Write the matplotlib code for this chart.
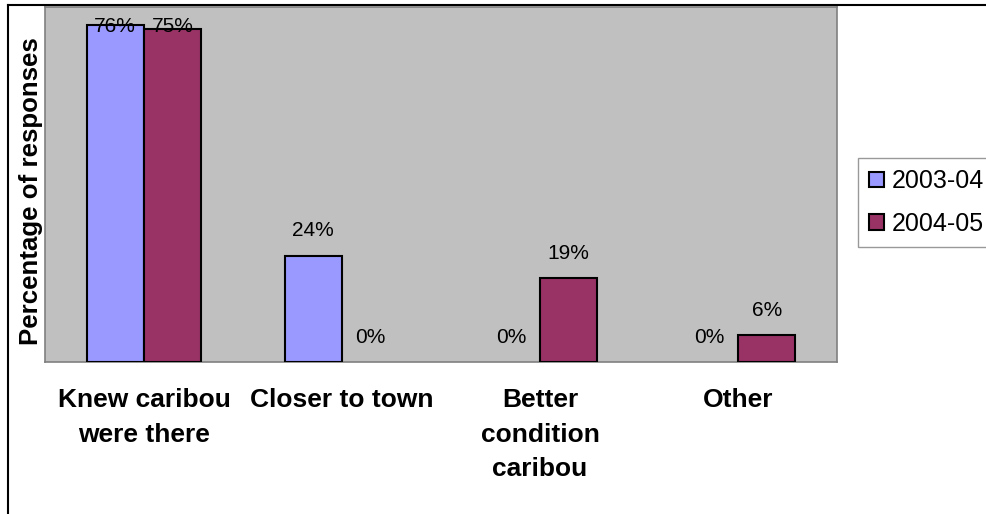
import matplotlib
matplotlib.use("Agg")
import matplotlib.pyplot as plt
from matplotlib.patches import Patch
from matplotlib.lines import Line2D
import numpy as np

plt.rcParams['font.family'] = ['Liberation Sans', 'DejaVu Sans']

categories = ["Knew caribou\nwere there", "Closer to town", "Better\ncondition\ncaribou", "Other"]
series_names = ["2003-04", "2004-05"]
values_2003 = [76, 24, 0, 0]
values_2004 = [75, 0, 19, 6]
colors = ["#9999FF", "#993366"]

W, H = 986, 514
fig = plt.figure(figsize=(W / 100, H / 100), dpi=100)
ax = fig.add_axes([45 / W, 1 - 362 / H, 792 / W, 355 / H])
ax.set_facecolor("#C0C0C0")

x = np.arange(len(categories))
bw = 0.29
px_to_pt = 72 / 100

for i, (vals, col, name) in enumerate(zip([values_2003, values_2004], colors, series_names)):
    offs = (i - 0.5) * bw
    # zero-height bars get no outline
    lws = [1.5 if v > 0 else 0 for v in vals]
    ax.bar(x + offs, vals, width=bw, color=col, edgecolor="black", linewidth=lws, label=name, zorder=3)
    for xi, v in zip(x + offs, vals):
        if v > 70:
            # labels near the top are pulled inside the plot area
            ax.annotate(f"{v}%", xy=(xi, 1.0), xycoords=("data", "axes fraction"),
                        xytext=(0, -25 * px_to_pt), textcoords="offset points",
                        ha="center", va="baseline", fontsize=15, zorder=4)
        else:
            ax.annotate(f"{v}%", xy=(xi, v), xytext=(0, 19 * px_to_pt), textcoords="offset points",
                        ha="center", va="baseline", fontsize=15, zorder=4)

ax.set_xlim(-0.5, len(categories) - 0.5)
ax.set_ylim(0, 80)
ax.set_yticks([])
ax.set_xticks(x)
ax.set_xticklabels(categories, fontsize=19, fontweight="bold", linespacing=1.55,
                   multialignment="center")
ax.tick_params(axis="x", length=0, pad=19)
for s in ax.spines.values():
    s.set_color("#808080")
    s.set_linewidth(1.2)

fig.text(31 / W, 1 - 191 / H, "Percentage of responses", rotation=90, ha="center", va="center",
         fontsize=18.6, fontweight="bold")

handles = [Patch(facecolor=c, edgecolor="black", linewidth=1.5) for c in colors]
leg = fig.legend(handles, series_names, loc="upper left", bbox_to_anchor=(858 / W, 1 - 158 / H),
                 fontsize=18, frameon=True, fancybox=False, handlelength=0.6, handleheight=0.6,
                 handletextpad=0.3, labelspacing=0.75, borderpad=0.45, borderaxespad=0)
leg.get_frame().set_edgecolor("#808080")
leg.get_frame().set_linewidth(1.0)

# chart border
fig.add_artist(Line2D([8 / W, 8 / W], [0, 1 - 5 / H], transform=fig.transFigure, color="black", lw=1.5))
fig.add_artist(Line2D([8 / W, 1], [1 - 5 / H, 1 - 5 / H], transform=fig.transFigure, color="black", lw=1.5))

fig.savefig("out.png", dpi=100)
